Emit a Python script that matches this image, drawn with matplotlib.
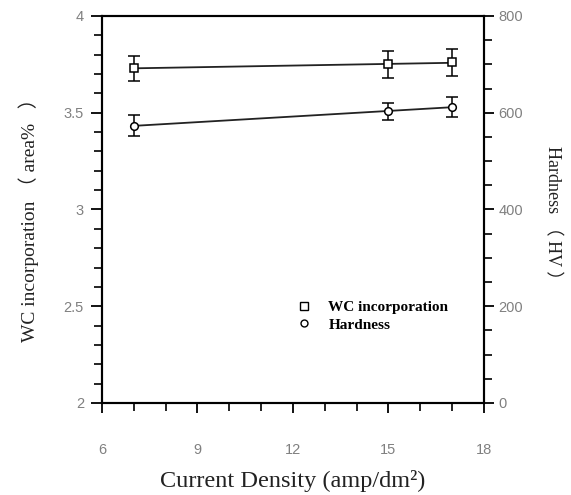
import matplotlib
matplotlib.use("Agg")
import matplotlib.pyplot as plt
from matplotlib.lines import Line2D
from matplotlib.ticker import MultipleLocator
import numpy as np

# current density (amp/dm2)
current = np.array([7, 15, 17])
# WC incorporation (area %) and its spread
wc = np.array([3.73, 3.75, 3.76])
wc_err = np.array([0.065, 0.07, 0.07])
# hardness (HV) and its spread
hardness = np.array([573, 603, 612])
hardness_err = np.array([22, 18, 20])

serif = ['Liberation Serif', 'Noto Sans CJK SC']
tick_col = '#808080'
label_col = '#222222'

fig = plt.figure(figsize=(5.71, 4.95), dpi=100)
ax = fig.add_axes([0.1786, 0.1859, 0.669, 0.7818])
ax2 = ax.twinx()

# straight-line fits through each series
xs = np.array([current.min(), current.max()])
p_wc = np.polyfit(current, wc, 1)
p_hv = np.polyfit(current, hardness, 1)
ax.plot(xs, np.polyval(p_wc, xs), color='#222222', lw=1.3, zorder=2)
ax2.plot(xs, np.polyval(p_hv, xs), color='#222222', lw=1.3, zorder=2)

ax.errorbar(current, wc, yerr=wc_err, fmt='s', mfc='white', mec='black',
            ms=6, mew=1.1, ecolor='black', elinewidth=1.1, capsize=4.3,
            capthick=1.3, zorder=3)
ax2.errorbar(current, hardness, yerr=hardness_err, fmt='o', mfc='white',
             mec='black', ms=5.5, mew=1.1, ecolor='black', elinewidth=1.1,
             capsize=4.3, capthick=1.3, zorder=3)

ax.set_xlim(6, 18)
ax.set_ylim(2, 4)
ax2.set_ylim(0, 800)
ax.xaxis.set_major_locator(MultipleLocator(3))
ax.xaxis.set_minor_locator(MultipleLocator(1))
ax.yaxis.set_major_locator(MultipleLocator(0.5))
ax.yaxis.set_minor_locator(MultipleLocator(0.1))
ax2.yaxis.set_major_locator(MultipleLocator(200))
ax2.yaxis.set_minor_locator(MultipleLocator(50))
ax.set_yticks([2, 2.5, 3, 3.5, 4])
ax.set_yticklabels(['2', '2.5', '3', '3.5', '4'])

for a in (ax, ax2):
    for s in a.spines.values():
        s.set_linewidth(1.5)
ax.tick_params(axis='x', which='major', direction='out', length=7, width=1.3,
               pad=22, labelsize=10.5, labelcolor=tick_col,
               labelfontfamily='Liberation Sans')
ax.tick_params(axis='x', which='minor', direction='out', length=6, width=1.2)
ax.tick_params(axis='y', which='major', direction='out', length=8, width=1.3,
               pad=5, labelsize=10.5, labelcolor=tick_col,
               labelfontfamily='Liberation Sans')
ax.tick_params(axis='y', which='minor', direction='out', length=6, width=1.2)
ax2.tick_params(axis='y', which='major', direction='out', length=7, width=1.3,
                pad=3.5, labelsize=10.5, labelcolor=tick_col,
                labelfontfamily='Liberation Sans')
ax2.tick_params(axis='y', which='minor', direction='out', length=6, width=1.2)

ax.set_xlabel('Current Density (amp/dm\u00b2)', family=serif, fontsize=17.5,
              color=label_col, va='center')
ax.xaxis.set_label_coords(0.5, -0.202)
ax.set_ylabel('WC incorporation \uff08 area%   \uff09', family=serif,
              fontsize=14, color=label_col, va='center')
ax.yaxis.set_label_coords(-0.191, 0.486)
ax2.set_ylabel('Hardness \uff08 HV \uff09', family=serif, fontsize=13,
               color=label_col, rotation=-90, va='center')
ax2.yaxis.set_label_coords(1.178, 0.479)

handles = [Line2D([], [], ls='none', marker='s', mfc='white', mec='black',
                  ms=6, mew=1),
           Line2D([], [], ls='none', marker='o', mfc='white', mec='black',
                  ms=5, mew=1)]
ax.legend(handles, ['WC incorporation', 'Hardness'], frameon=False,
          loc='upper left', bbox_to_anchor=(0.469, 0.30), handlelength=1.2,
          handletextpad=1.0, labelspacing=0.25,
          prop={'family': serif, 'size': 11, 'weight': 'bold'})

fig.savefig('out.png', dpi=100)
